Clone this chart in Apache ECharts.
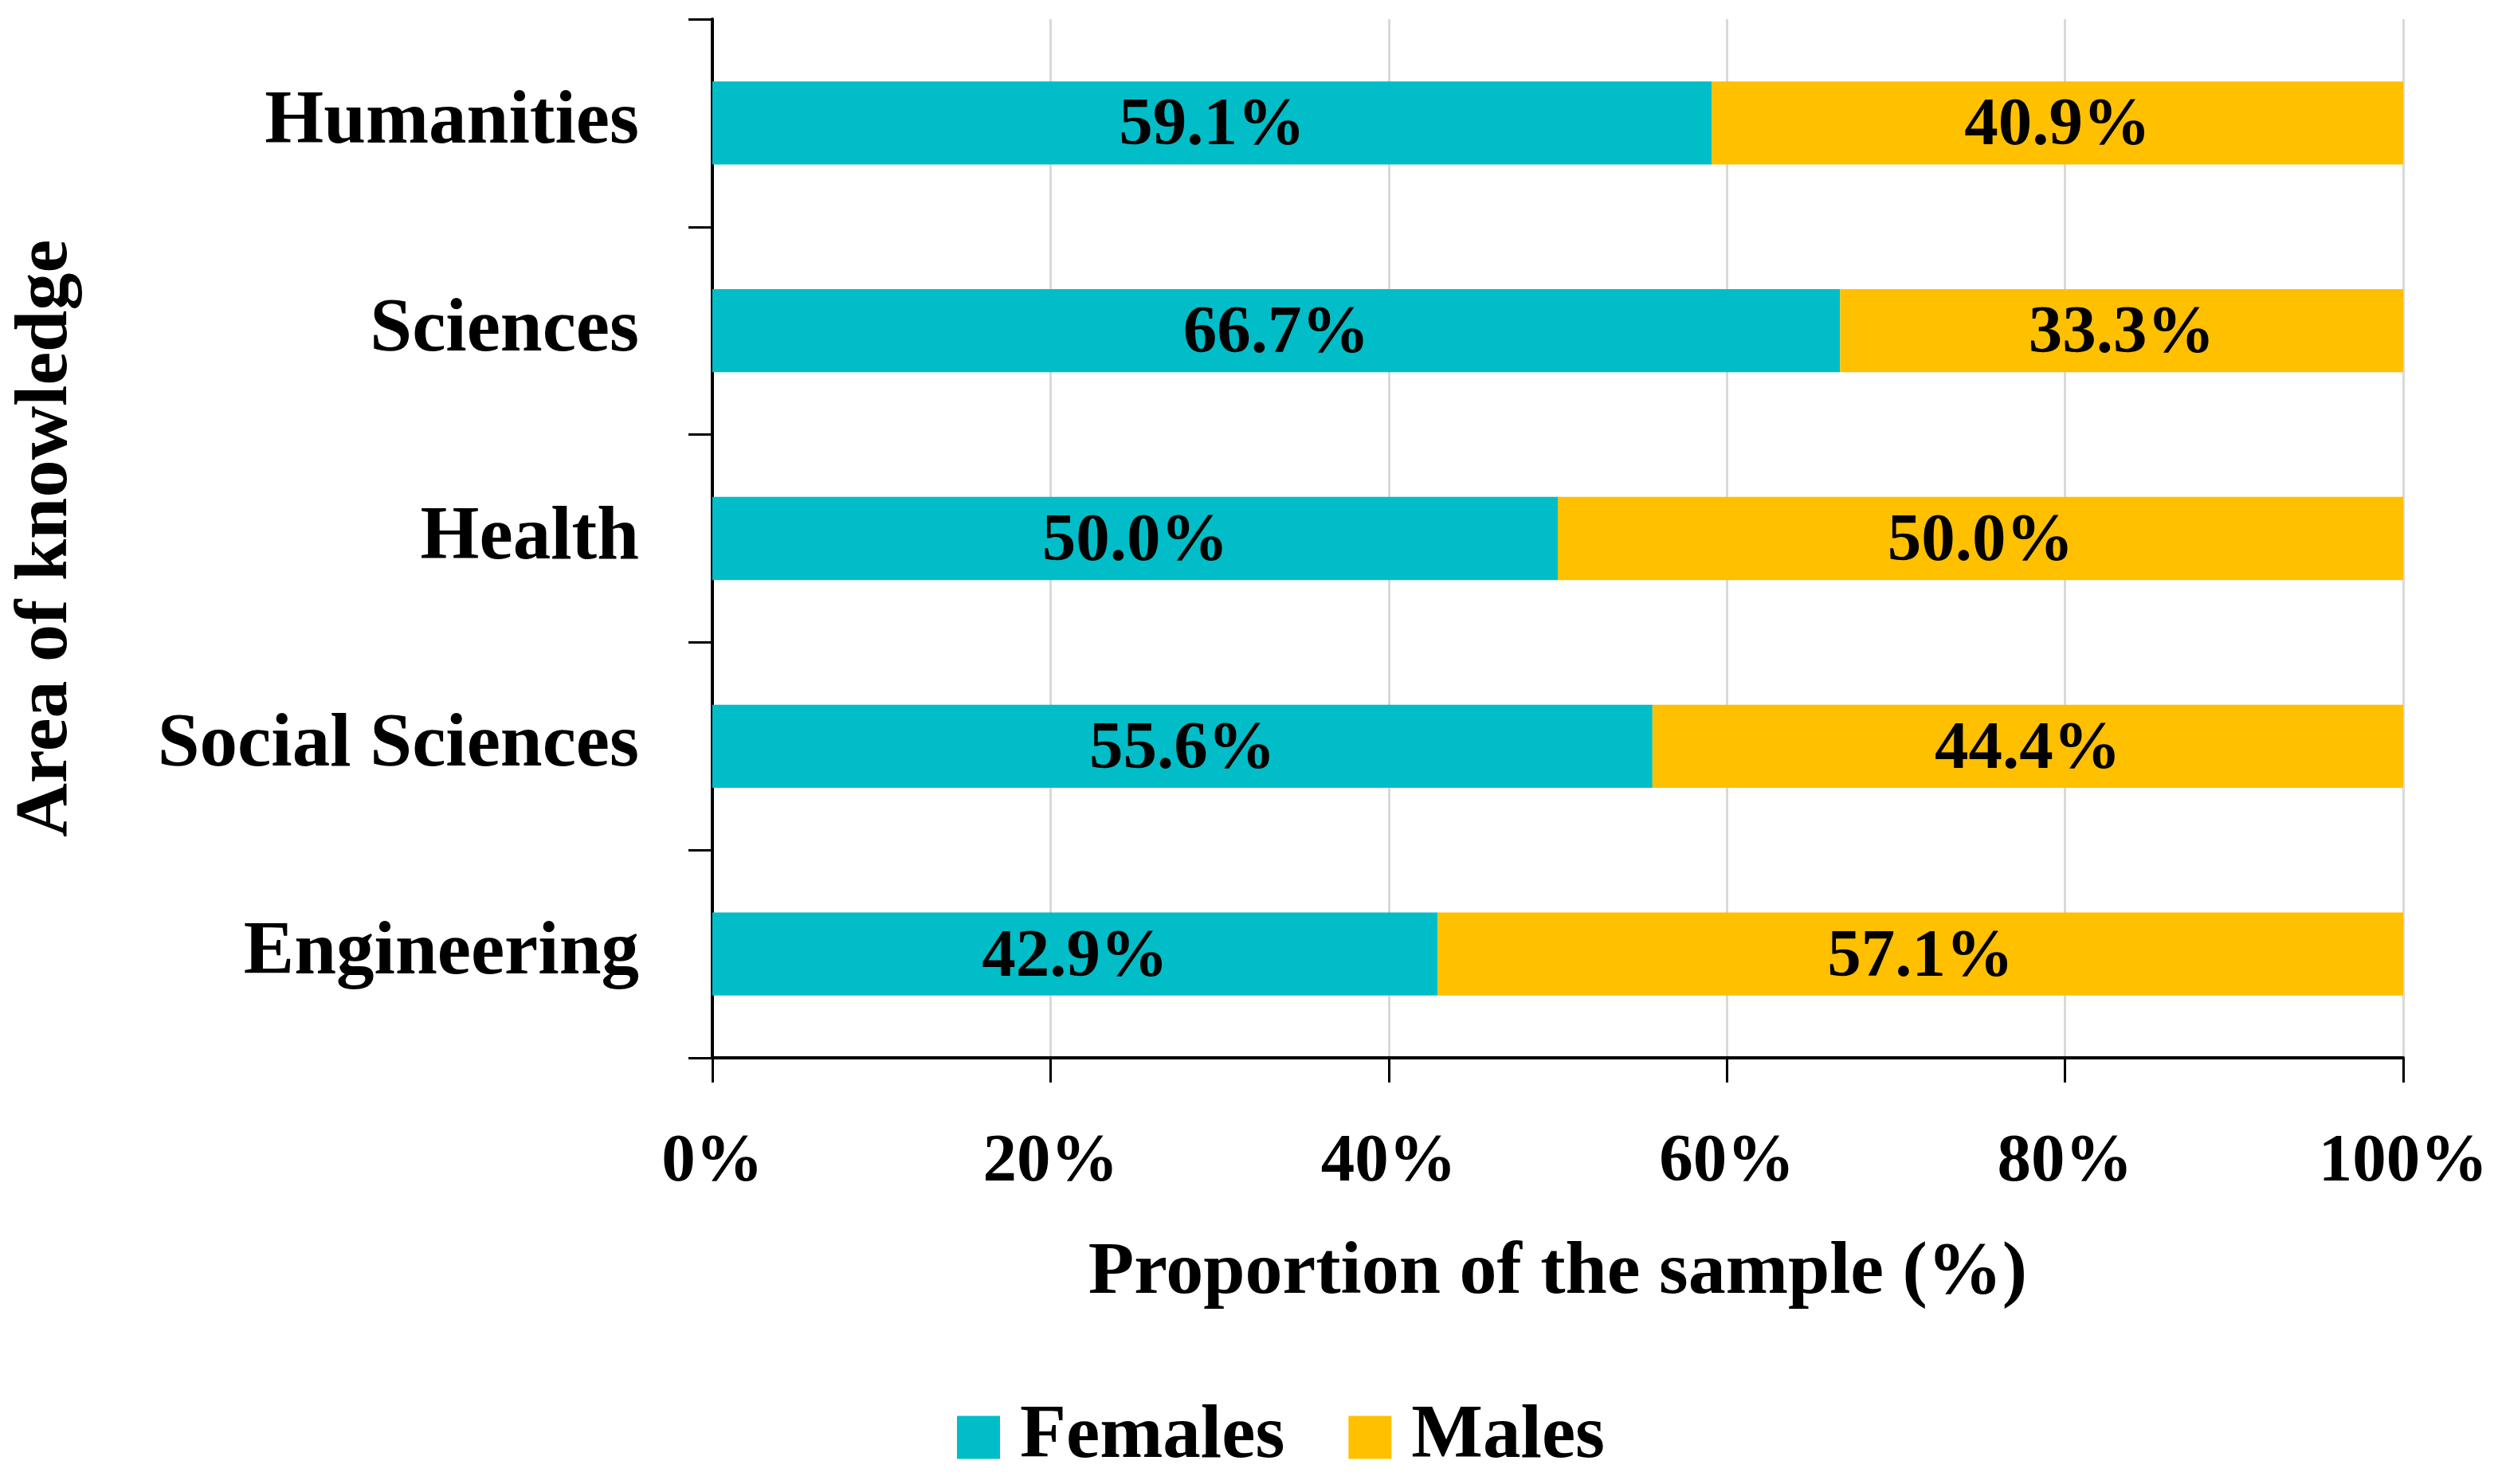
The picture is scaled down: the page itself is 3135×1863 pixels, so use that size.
<!DOCTYPE html>
<html lang="en">

<head>
    <meta charset="UTF-8">
    <title>Area of knowledge by sex</title>
    <style>
        html, body { margin: 0; padding: 0; background: #fff; }
        #chart { width: 3135px; height: 1863px; }
    </style>
</head>

<body>
    <div id="chart"></div>
    <script src="https://cdn.jsdelivr.net/npm/echarts@6/dist/echarts.min.js"></script>
    <script>
        // categories listed top to bottom, as in the picture
        var areas = ['Humanities', 'Sciences', 'Health', 'Social Sciences', 'Engineering'];
        var females = [59.1, 66.7, 50.0, 55.6, 42.9];
        var males = [40.9, 33.3, 50.0, 44.4, 57.1];
        var xTicks = [0, 20, 40, 60, 80, 100];

        var font = '"Liberation Serif", "Times New Roman", serif';
        var fsWord = 95;   // category names, legend
        var fsName = 94;   // axis titles
        var fsNum = 85;    // numbers

        var mCharts = echarts.init(document.getElementById('chart'));

        function segLabel() {
            return {
                show: true,
                position: 'inside',
                offset: [0, 5],
                fontFamily: font,
                fontWeight: 'bold',
                fontSize: fsNum,
                color: '#000',
                formatter: function (p) { return p.value.toFixed(1) + '%'; }
            };
        }

        var option = {
            backgroundColor: '#fff',
            animation: false,
            grid: {
                left: 894,
                right: 119,
                top: 24,
                bottom: 535
            },
            legend: {
                data: ['Females', 'Males'],
                bottom: 6,
                left: 1196,
                icon: 'rect',
                itemWidth: 54,
                itemHeight: 54,
                itemGap: 80,
                textStyle: { fontFamily: font, fontWeight: 'bold', fontSize: fsWord, color: '#000', padding: [0, 0, 0, 20] }
            },
            xAxis: {
                type: 'value',
                min: xTicks[0],
                max: xTicks[xTicks.length - 1],
                interval: 20,
                name: 'Proportion of the sample (%)',
                nameLocation: 'middle',
                nameGap: 224,
                nameTextStyle: { fontFamily: font, fontWeight: 'bold', fontSize: fsName, color: '#000' },
                axisLine: { show: true, lineStyle: { color: '#000', width: 4 } },
                axisTick: { show: true, length: 31, lineStyle: { color: '#000', width: 3 } },
                axisLabel: {
                    margin: 90,
                    fontFamily: font, fontWeight: 'bold', fontSize: fsNum, color: '#000',
                    formatter: '{value}%'
                },
                splitLine: { show: true, lineStyle: { color: '#d9d9d9', width: 3 } }
            },
            yAxis: {
                type: 'category',
                data: areas,
                inverse: true,
                name: 'Area of knowledge',
                nameLocation: 'middle',
                nameGap: 788,
                nameTextStyle: { fontFamily: font, fontWeight: 'bold', fontSize: fsName, color: '#000', padding: [0, 0, 0, 0] },
                axisLine: { show: true, lineStyle: { color: '#000', width: 4 } },
                axisTick: { show: true, length: 30, lineStyle: { color: '#000', width: 3 } },
                axisLabel: {
                    margin: 92,
                    fontFamily: font, fontWeight: 'bold', fontSize: fsWord, color: '#000'
                },
                splitLine: { show: false }
            },
            series: [
                {
                    name: 'Females',
                    type: 'bar',
                    stack: 'total',
                    barWidth: '40%',
                    itemStyle: { color: '#00BDC7' },
                    label: segLabel(),
                    data: females
                },
                {
                    name: 'Males',
                    type: 'bar',
                    stack: 'total',
                    barWidth: '40%',
                    itemStyle: { color: '#FFC000' },
                    label: segLabel(),
                    data: males
                }
            ]
        };
        mCharts.setOption(option);
    </script>
</body>

</html>
